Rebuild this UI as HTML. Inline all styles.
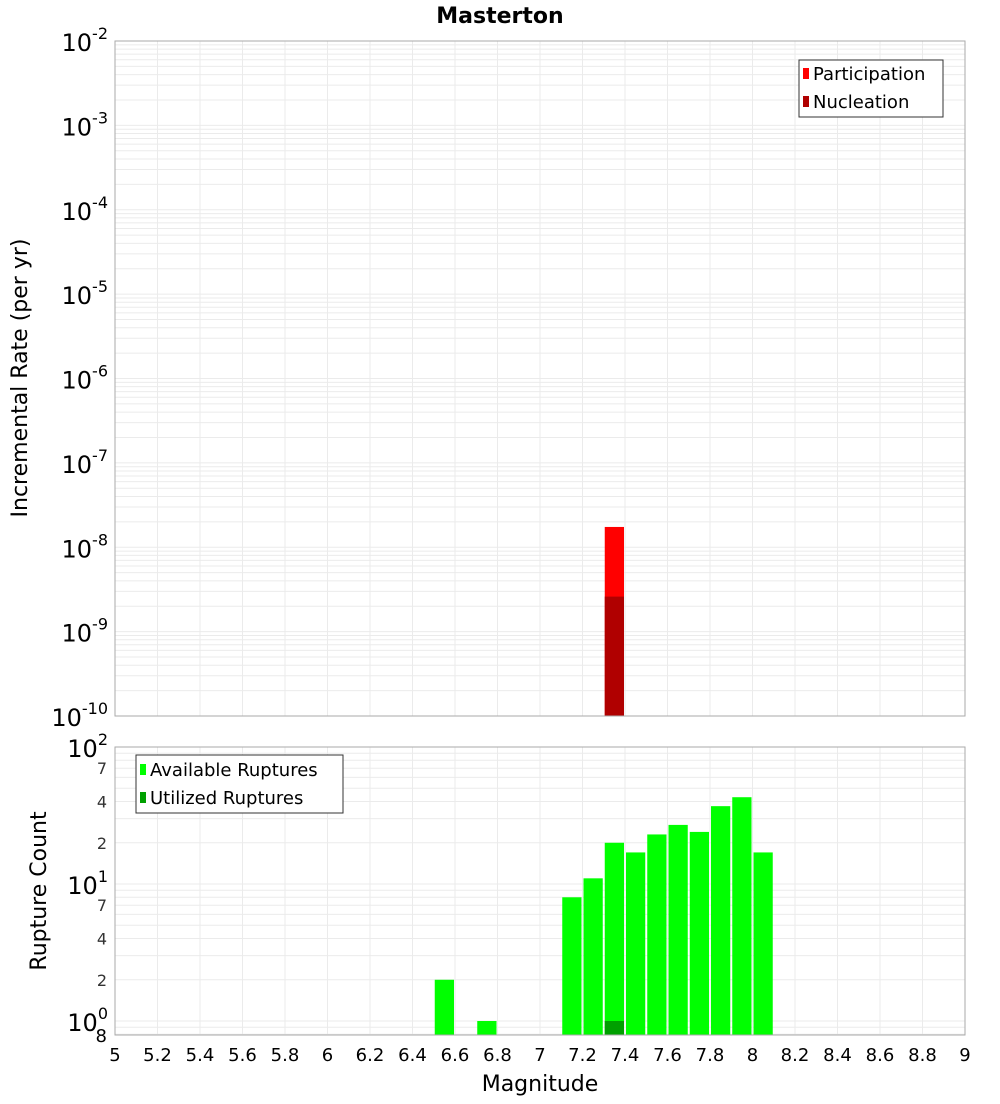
<!DOCTYPE html>
<html><head><meta charset="utf-8"><style>
body{margin:0;background:#fff;font-family:"DejaVu Sans","Liberation Sans",sans-serif;}
svg text{font-family:"DejaVu Sans","Liberation Sans",sans-serif;}
</style></head><body>
<svg id="c" width="1000" height="1100" xmlns="http://www.w3.org/2000/svg">
<rect width="1000" height="1100" fill="#fff"/>
<text x="500" y="23" text-anchor="middle" font-size="22" font-weight="bold">Masterton</text>
<g id="topg"></g><g id="botg"></g>
</svg>
<script>
const binCenters=[6.55,6.75,7.15,7.25,7.35,7.45,7.55,7.65,7.75,7.85,7.95,8.05];
const availableCounts=[2,1,8,11,20,17,23,27,24,37,43,17];
const utilizedMags=[7.35];
const utilizedCounts=[1];
const rateMags=[7.35];
const participationRates=[1.74e-8];
const nucleationRates=[2.6e-9];
const xTicks=[5,5.2,5.4,5.6,5.8,6,6.2,6.4,6.6,6.8,7,7.2,7.4,7.6,7.8,8,8.2,8.4,8.6,8.8,9];

const NS='http://www.w3.org/2000/svg';
const svgEl=document.getElementById('c');
function mk(tag,at,parent,txt){const e=document.createElementNS(NS,tag);for(const k in at)e.setAttribute(k,at[k]);if(txt!==undefined)e.textContent=txt;(parent||svgEl).appendChild(e);return e;}
const X0=115,X1=965;
const xs=m=>X0+(m-5)/4*(X1-X0);
const T0=41,T1=716;
const yTop=v=>T0+(-2-Math.log10(v))/8*(T1-T0);
const B0=747,B1=1035,BD=137;
const yBot=v=>1021-Math.log10(v)*BD;
const topG=document.getElementById('topg'),botG=document.getElementById('botg');

for(let d=-10;d<-2;d++)for(let k=1;k<10;k++){const y=yTop(k*Math.pow(10,d));if(y<T0||y>T1)continue;
 const l=mk('line',{x1:X0,x2:X1,y1:y,y2:y,stroke:'#ebebeb','stroke-width':1},topG);
 
 }
xTicks.forEach(t=>{const x=xs(t);
 const l=mk('line',{x1:x,x2:x,y1:T0,y2:T1,stroke:'#ebebeb'},topG);
 
 
 const l2=mk('line',{x1:x,x2:x,y1:B0,y2:B1,stroke:'#ebebeb'},botG);
 
 });
for(let d=-1;d<2;d++)for(let k=1;k<10;k++){const y=yBot(k*Math.pow(10,d));if(y<B0||y>B1)continue;
 const l=mk('line',{x1:X0,x2:X1,y1:y,y2:y,stroke:'#ebebeb'},botG);
 
 }

const bw=xs(5.1)-xs(5)-2;
rateMags.forEach((m,i)=>{
 const r=mk('rect',{x:xs(m)-bw/2,y:yTop(participationRates[i]),width:bw,height:T1-yTop(participationRates[i]),fill:'#ff0000'},topG);
 
 
 const n=mk('rect',{x:xs(m)-bw/2,y:yTop(nucleationRates[i]),width:bw,height:T1-yTop(nucleationRates[i]),fill:'#b00000'},topG);
 
 });
const pa=mk('rect',{x:X0,y:T0,width:X1-X0,height:T1-T0,fill:'none',stroke:'#aaa'},topG);


for(let d=-10;d<=-2;d++){const y=yTop(Math.pow(10,d));
 const t=mk('text',{x:108,y:y+10,'text-anchor':'end','font-size':24},topG);
 
 
 t.textContent='10';mk('tspan',{dy:-12,'font-size':16},t,String(d));}
const yt=mk('text',{x:27,y:378,'text-anchor':'middle','font-size':22,transform:'rotate(-90 27 378)'},topG,'Incremental Rate (per yr)');


const lg=mk('g',{},topG);


mk('rect',{x:799,y:60,width:144,height:57,fill:'#fff',stroke:'#333'},lg);
mk('rect',{x:803,y:68,width:6,height:11,fill:'#ff0000'},lg);
mk('text',{x:813,y:80,'font-size':18},lg,'Participation');
mk('rect',{x:803,y:96,width:6,height:11,fill:'#b00000'},lg);
mk('text',{x:813,y:108,'font-size':18},lg,'Nucleation');

binCenters.forEach((m,i)=>{const y=yBot(availableCounts[i]);
 const r=mk('rect',{x:xs(m)-bw/2,y:y,width:bw,height:B1-y,fill:'#00ff00'},botG);
 
 });
utilizedMags.forEach((m,i)=>{const y=yBot(utilizedCounts[i]);
 const r=mk('rect',{x:xs(m)-bw/2,y:y,width:bw,height:B1-y,fill:'#00a000'},botG);
 
 });
const pb=mk('rect',{x:X0,y:B0,width:X1-X0,height:B1-B0,fill:'none',stroke:'#aaa'},botG);


for(let d=0;d<=2;d++){const y=yBot(Math.pow(10,d));
 const t=mk('text',{x:108,y:y+10,'text-anchor':'end','font-size':24},botG);
 
 
 t.textContent='10';mk('tspan',{dy:-12,'font-size':16},t,String(d));}
[[2,0],[4,0],[7,0],[2,1],[4,1],[7,1]].forEach(([k,d])=>{const y=yBot(k*Math.pow(10,d));
 const t=mk('text',{x:107,y:y+6,'text-anchor':'end','font-size':16,fill:'#333'},botG,String(k));
 
 });
const e8=mk('text',{x:107,y:1042,'text-anchor':'end','font-size':18},botG,'8');


const bt=mk('text',{x:46,y:891,'text-anchor':'middle','font-size':22,transform:'rotate(-90 46 891)'},botG,'Rupture Count');


xTicks.forEach(t=>{const e=mk('text',{x:xs(t),y:1061,'text-anchor':'middle','font-size':18},botG,String(t));
 
 });
const xt=mk('text',{x:540,y:1091,'text-anchor':'middle','font-size':22},botG,'Magnitude');


const bl=mk('g',{},botG);


mk('rect',{x:136,y:755,width:207,height:58,fill:'#fff',stroke:'#333'},bl);
mk('rect',{x:140,y:764,width:6,height:11,fill:'#00ff00'},bl);
mk('text',{x:150,y:776,'font-size':18},bl,'Available Ruptures');
mk('rect',{x:140,y:792,width:6,height:11,fill:'#00a000'},bl);
mk('text',{x:150,y:804,'font-size':18},bl,'Utilized Ruptures');
</script>
</body></html>
